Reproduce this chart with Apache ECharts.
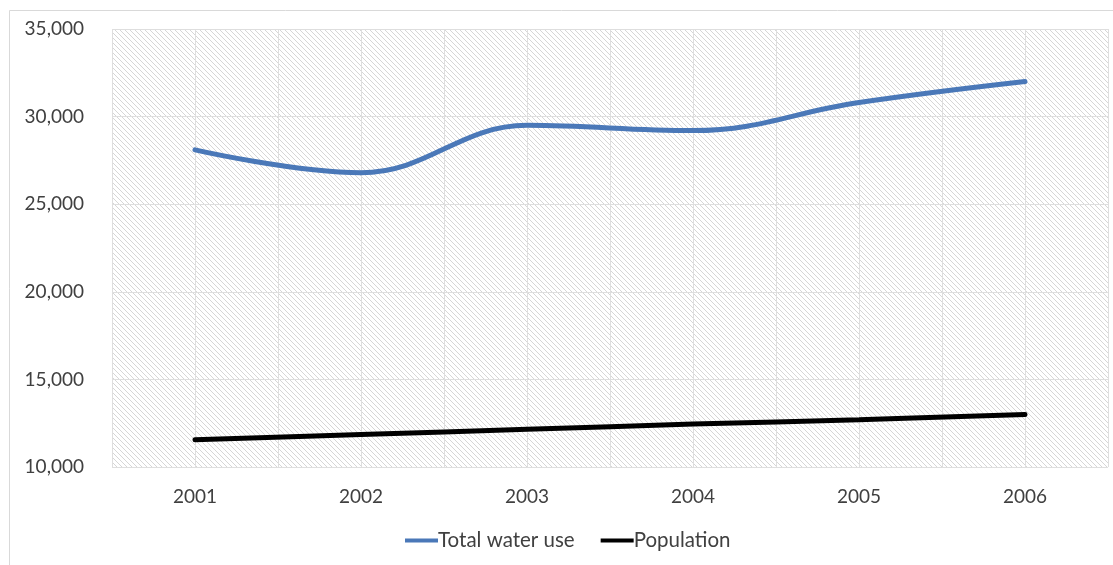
<!DOCTYPE html>
<html>
<head>
<meta charset="utf-8">
<script src="https://cdn.jsdelivr.net/npm/echarts@6/dist/echarts.min.js"></script>
<style>
  html, body { margin: 0; padding: 0; background: #fff; }
  #chart { width: 1113px; height: 565px; }
</style>
</head>
<body>
<div id="chart"></div>
<script>
// Years on the category axis
const years = ['2001', '2002', '2003', '2004', '2005', '2006'];
// Total water use per year
const totalWaterUse = [28100, 26800, 29500, 29200, 30800, 32000];
// Population per year
const population = [11550, 11850, 12150, 12450, 12700, 13000];
// Value axis range and step
const yMin = 10000;
const yMax = 35000;
const yStep = 5000;

// Diagonal hatch tile for the plot area background
function hatchTile() {
  const size = 5;
  const c = document.createElement('canvas');
  c.width = size; c.height = size;
  const ctx = c.getContext('2d');
  ctx.fillStyle = '#ffffff';
  ctx.fillRect(0, 0, size, size);
  ctx.strokeStyle = '#d6d6d6';
  ctx.lineWidth = 1;
  ctx.beginPath();
  ctx.moveTo(-1, -1); ctx.lineTo(size + 1, size + 1);
  ctx.moveTo(-1, size - 1); ctx.lineTo(1, size + 1);
  ctx.moveTo(size - 1, -1); ctx.lineTo(size + 1, 1);
  ctx.stroke();
  return c;
}

const font = 'Lato, "Open Sans", sans-serif';
const textColor = '#404040';
const gridColor = '#dedede';

const chart = echarts.init(document.getElementById('chart'), null, { renderer: 'canvas' });
chart.setOption({
  animation: false,
  backgroundColor: '#ffffff',
  graphic: [{
    type: 'rect',
    left: 7, top: 8,
    shape: { width: 1104, height: 570 },
    style: { fill: 'none', stroke: '#d9d9d9', lineWidth: 1 },
    silent: true,
    z: -10
  }],
  grid: {
    left: 112, right: 5, top: 29, bottom: 98,
    show: true,
    borderWidth: 0,
    backgroundColor: { image: hatchTile(), repeat: 'repeat' }
  },
  legend: {
    left: 400, top: 525,
    icon: 'rect',
    itemWidth: 33, itemHeight: 4,
    itemGap: 26,
    textStyle: { fontFamily: font, fontSize: 20.5, color: textColor, padding: [0, 0, 0, -5] },
    data: ['Total water use', 'Population']
  },
  xAxis: [{
    type: 'category',
    data: years,
    boundaryGap: true,
    axisLine: { show: false },
    axisTick: { show: false },
    splitLine: { show: false },
    axisLabel: { fontFamily: font, fontSize: 19, color: textColor, margin: 20 }
  }, {
    // half-category gridlines
    type: 'value',
    min: 0, max: 12, interval: 1,
    show: true,
    position: 'top',
    axisLine: { show: false },
    axisTick: { show: false },
    axisLabel: { show: false },
    splitLine: { show: true, lineStyle: { color: gridColor, width: 1 } }
  }],
  yAxis: {
    type: 'value',
    min: yMin, max: yMax, interval: yStep,
    axisLine: { show: false },
    axisTick: { show: false },
    axisLabel: {
      fontFamily: font, fontSize: 19, color: textColor, margin: 28,
      formatter: v => v.toLocaleString('en-US')
    },
    splitLine: { lineStyle: { color: gridColor, width: 1 } }
  },
  series: [{
    name: 'Total water use',
    type: 'line',
    xAxisIndex: 0,
    data: totalWaterUse,
    smooth: 0.4,
    symbol: 'none',
    color: '#4a78b8',
    lineStyle: { width: 5, color: '#4a78b8', cap: 'round' }
  }, {
    name: 'Population',
    type: 'line',
    xAxisIndex: 0,
    data: population,
    smooth: 0.4,
    symbol: 'none',
    color: '#000000',
    lineStyle: { width: 5, color: '#000000', cap: 'round' }
  }]
});
</script>
</body>
</html>
